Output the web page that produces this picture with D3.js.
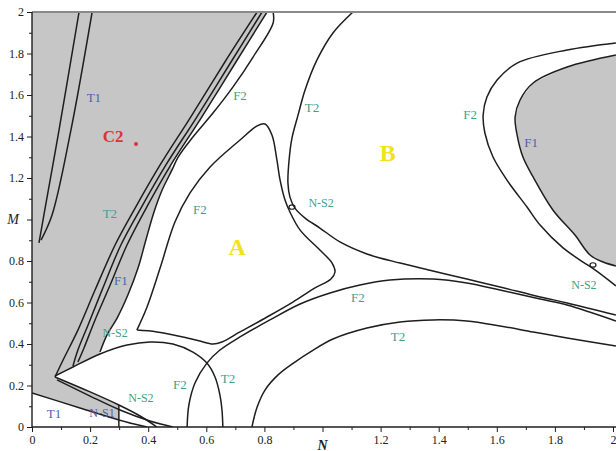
<!DOCTYPE html>
<meta charset="utf-8">
<script src="https://d3js.org/d3.v7.min.js"></script>
<div id="chart"></div>
<style>
 body { margin: 0; background: #fff; }
 text { font-family: 'Liberation Serif', 'DejaVu Serif', serif; }
</style>
<script>
 const lineColor = "#1e1e1e";
 const grayFill = "#c6c6c6";
 const teal = "#45a08a";
 const blue = "#4f5fb2";
 const red = "#e0303a";
 const yellow = "#f2e21a";

 // ticks
 const xTicks = [0, 0.2, 0.4, 0.6, 0.8, 1, 1.2, 1.4, 1.6, 1.8, 2];
 const xTickLabels = ["0", "0.2", "0.4", "0.6", "0.8", "", "1.2", "1.4", "1.6", "1.8", "2"];
 const yTicks = [0, 0.2, 0.4, 0.6, 0.8, 1, 1.2, 1.4, 1.6, 1.8, 2];
 const yTickLabels = ["0", "0.2", "0.4", "0.6", "0.8", "", "1.2", "1.4", "1.6", "1.8", "2"];
 const minorTicks = [0.1, 0.3, 0.5, 0.7, 0.9, 1.1, 1.3, 1.5, 1.7, 1.9];

 // bifurcation curves, [N, M]
 const t1a = [[0.162, 2.0], [0.093, 1.431], [0.041, 1.022], [0.024, 0.887]];
 const t1b = [[0.207, 2.0], [0.134, 1.431], [0.069, 1.022], [0.031, 0.901]];
 const la = [[0.775, 2.0], [0.664, 1.759], [0.544, 1.489], [0.441, 1.263], [0.355, 1.055],
             [0.286, 0.877], [0.217, 0.660], [0.158, 0.467], [0.107, 0.323], [0.079, 0.241]];
 const lb = [[0.792, 2.0], [0.685, 1.759], [0.565, 1.489], [0.461, 1.263], [0.375, 1.055],
             [0.306, 0.877], [0.244, 0.670], [0.193, 0.492], [0.158, 0.371], [0.141, 0.294]];
 const lc = [[0.809, 2.0], [0.702, 1.759], [0.582, 1.489], [0.478, 1.263], [0.399, 1.070],
             [0.327, 0.877], [0.269, 0.684], [0.217, 0.516], [0.179, 0.381], [0.158, 0.313]];
 const ls = [[0.830, 2.0], [0.830, 1.947], [0.761, 1.783], [0.692, 1.639], [0.623, 1.513],
             [0.554, 1.398], [0.503, 1.301], [0.482, 1.239], [0.448, 1.142], [0.420, 1.036],
             [0.392, 0.901], [0.365, 0.766], [0.330, 0.636], [0.293, 0.525], [0.258, 0.443],
             [0.234, 0.361]];
 const dome = [[0.079, 0.246], [0.141, 0.289], [0.234, 0.352], [0.327, 0.395], [0.406, 0.410],
               [0.485, 0.400], [0.554, 0.361], [0.602, 0.308], [0.630, 0.241], [0.647, 0.154],
               [0.654, 0.082], [0.657, 0.0]];
 const va = [[0.079, 0.241], [0.200, 0.169], [0.299, 0.106], [0.372, 0.053], [0.430, 0.0]];
 const vb = [[0.086, 0.227], [0.200, 0.149], [0.303, 0.082], [0.406, 0.029], [0.485, 0.0]];
 const t1Low = [[0.0, 0.164], [0.165, 0.092], [0.299, 0.034], [0.396, 0.0]];
 const ns1Edge = [[0.299, 0.106], [0.299, 0.0]];
 const f1Right = [[2.010, 1.793], [1.842, 1.735], [1.725, 1.658], [1.680, 1.576], [1.663, 1.494],
                  [1.670, 1.407], [1.690, 1.301], [1.725, 1.205], [1.793, 1.046], [1.869, 0.925],
                  [1.921, 0.829], [1.966, 0.795], [2.010, 0.776]];
 const f2Right = [[2.010, 1.851], [1.842, 1.817], [1.670, 1.754], [1.601, 1.672], [1.566, 1.590],
                  [1.553, 1.504], [1.559, 1.417], [1.587, 1.301], [1.635, 1.190], [1.704, 1.060],
                  [1.749, 0.973], [1.828, 0.863], [1.897, 0.795], [1.938, 0.757], [2.010, 0.680]];
 const loopA = [[0.361, 0.467], [0.396, 0.578], [0.441, 0.766], [0.492, 0.988], [0.544, 1.128],
                [0.613, 1.253], [0.716, 1.383], [0.775, 1.451], [0.802, 1.460], [0.826, 1.407],
                [0.843, 1.287], [0.854, 1.190], [0.871, 1.094], [0.888, 1.036], [0.923, 0.949],
                [0.991, 0.853], [1.033, 0.790], [1.043, 0.747], [1.029, 0.713], [0.974, 0.670],
                [0.898, 0.602], [0.809, 0.530], [0.716, 0.458], [0.654, 0.410], [0.623, 0.400],
                [0.578, 0.414], [0.534, 0.429], [0.430, 0.458], [0.361, 0.467]];
 const d1 = [[1.105, 2.0], [1.036, 1.899], [0.981, 1.769], [0.940, 1.624], [0.916, 1.504],
             [0.895, 1.393], [0.885, 1.287], [0.881, 1.176], [0.888, 1.108], [0.905, 1.055],
             [0.940, 1.007], [0.991, 0.959], [1.060, 0.892], [1.153, 0.834], [1.267, 0.790],
             [1.380, 0.752], [1.497, 0.713], [1.611, 0.675], [1.749, 0.627], [1.842, 0.598],
             [2.010, 0.540]];
 const d2 = [[0.534, 0.0], [0.540, 0.106], [0.561, 0.212], [0.602, 0.308], [0.647, 0.371],
             [0.716, 0.434], [0.819, 0.516], [0.923, 0.593], [1.026, 0.646], [1.129, 0.684],
             [1.232, 0.708], [1.380, 0.713], [1.497, 0.694], [1.611, 0.660], [1.749, 0.617],
             [1.842, 0.588], [2.010, 0.511]];
 const t2Low = [[0.757, 0.0], [0.775, 0.096], [0.802, 0.178], [0.847, 0.251], [0.905, 0.313],
                [0.957, 0.361], [1.036, 0.424], [1.153, 0.477], [1.267, 0.506], [1.380, 0.516],
                [1.497, 0.511], [1.611, 0.487], [1.725, 0.458], [1.842, 0.429], [2.010, 0.390]];
 const curves = [t1a, t1b, la, lb, lc, ls, dome, va, vb, t1Low, ns1Edge, f1Right, f2Right,
                 loopA, d1, d2, t2Low];

 // Neimark-Sacker points
 const nsPoints = [[0.895, 1.060], [1.931, 0.781]];

 const labels = [
   {t: "T1", n: 0.213, m: 1.590, c: blue, s: 13},
   {t: "C2", n: 0.279, m: 1.398, c: red, s: 17},
   {t: "T2", n: 0.268, m: 1.027, c: teal, s: 13},
   {t: "F2", n: 0.716, m: 1.600, c: teal, s: 13},
   {t: "T2", n: 0.964, m: 1.542, c: teal, s: 13},
   {t: "F2", n: 1.508, m: 1.504, c: teal, s: 13},
   {t: "F1", n: 1.718, m: 1.369, c: blue, s: 13},
   {t: "B", n: 1.225, m: 1.320, c: yellow, s: 24},
   {t: "F2", n: 0.578, m: 1.046, c: teal, s: 13},
   {t: "N-S2", n: 0.995, m: 1.080, c: teal, s: 12},
   {t: "A", n: 0.706, m: 0.867, c: yellow, s: 24},
   {t: "F1", n: 0.306, m: 0.708, c: blue, s: 13},
   {t: "N-S2", n: 0.286, m: 0.453, c: teal, s: 12},
   {t: "F2", n: 1.122, m: 0.622, c: teal, s: 13},
   {t: "N-S2", n: 1.900, m: 0.684, c: teal, s: 12},
   {t: "T2", n: 1.260, m: 0.434, c: teal, s: 13},
   {t: "F2", n: 0.509, m: 0.207, c: teal, s: 13},
   {t: "T2", n: 0.675, m: 0.236, c: teal, s: 13},
   {t: "N-S2", n: 0.375, m: 0.140, c: teal, s: 12},
   {t: "T1", n: 0.076, m: 0.063, c: blue, s: 13},
   {t: "N-S1", n: 0.241, m: 0.067, c: blue, s: 12}
 ];
 const c2Point = [0.358, 1.364];

 const width = 616, height = 451;
 const svg = d3.select("#chart").append("svg")
               .attr("width", width).attr("height", height)
               .style("background", "#fff");

 const x = d3.scaleLinear().domain([0, 2]).range([32, 613]);
 const y = d3.scaleLinear().domain([0, 2]).range([427, 12]);

 svg.append("clipPath").attr("id", "plot")
    .append("rect").attr("x", x(0)).attr("y", y(2)).attr("width", width - x(0)).attr("height", y(0) - y(2));

 const plot = svg.append("g").attr("clip-path", "url(#plot)");

 // gray regions built from the curves
 const grayLeft = [[0, 2]]
   .concat(lc.slice(0, 4))
   .concat(ls.slice(7))
   .concat(dome.slice(0, 3).reverse())
   .concat(va.slice(0, 3))
   .concat([[0.299, 0.034]])
   .concat(t1Low.slice(0, 2).reverse());
 const grayRight = f1Right.concat([[2.1, 0.776], [2.1, 1.793]]);

 const area = d3.line().x(d => x(d[0])).y(d => y(d[1])).curve(d3.curveLinearClosed);
 plot.selectAll(".gray").data([grayLeft, grayRight]).join("path")
     .attr("d", area).attr("fill", grayFill);

 const line = d3.line().x(d => x(d[0])).y(d => y(d[1])).curve(d3.curveCatmullRom.alpha(0.5));
 plot.selectAll(".curve").data(curves).join("path")
     .attr("d", line).attr("fill", "none")
     .attr("stroke", lineColor).attr("stroke-width", 1.5);

 plot.selectAll(".ns").data(nsPoints).join("ellipse")
     .attr("cx", d => x(d[0])).attr("cy", d => y(d[1]))
     .attr("rx", 3).attr("ry", 2.2).attr("fill", "none")
     .attr("stroke", lineColor).attr("stroke-width", 1.2);

 // labels
 plot.selectAll(".lab").data(labels).join("text")
     .attr("x", d => x(d.n)).attr("y", d => y(d.m))
     .attr("text-anchor", "middle").attr("dominant-baseline", "central")
     .style("font-size", d => d.s + "px")
     .style("font-weight", d => d.s > 16 ? "bold" : "normal")
     .attr("fill", d => d.c).text(d => d.t);

 plot.append("circle").attr("cx", x(c2Point[0])).attr("cy", y(c2Point[1]))
     .attr("r", 2).attr("fill", red);

 // frame
 svg.append("line").attr("x1", x(0)).attr("x2", width).attr("y1", y(2)).attr("y2", y(2))
    .attr("stroke", "#8a8a8a").attr("stroke-width", 2);
 svg.append("line").attr("x1", x(0)).attr("x2", width).attr("y1", y(0)).attr("y2", y(0))
    .attr("stroke", lineColor).attr("stroke-width", 1.4);
 svg.append("line").attr("x1", x(0)).attr("x2", x(0)).attr("y1", y(0)).attr("y2", y(2))
    .attr("stroke", lineColor).attr("stroke-width", 1.4);

 // axes
 const xAxis = svg.append("g").attr("transform", `translate(0,${y(0)})`)
   .call(d3.axisBottom(x).tickValues(xTicks).tickSize(5).tickPadding(3)
         .tickFormat((d, i) => xTickLabels[i]));
 const xMinor = svg.append("g").attr("transform", `translate(0,${y(0)})`)
   .call(d3.axisBottom(x).tickValues(minorTicks).tickSize(3).tickFormat(""));
 const yAxis = svg.append("g").attr("transform", `translate(${x(0)},0)`)
   .call(d3.axisLeft(y).tickValues(yTicks).tickSize(5).tickPadding(3)
         .tickFormat((d, i) => yTickLabels[i]));
 const yMinor = svg.append("g").attr("transform", `translate(${x(0)},0)`)
   .call(d3.axisLeft(y).tickValues(minorTicks).tickSize(3).tickFormat(""));

 [xAxis, xMinor, yAxis, yMinor].forEach(g => {
   g.select(".domain").remove();
   g.selectAll("line").attr("stroke", lineColor);
   g.selectAll("text").style("font-family", "'Liberation Serif', serif")
    .style("font-size", "12px").attr("fill", "#222");
 });

 svg.append("text").attr("x", x(1)).attr("y", 445)
    .attr("text-anchor", "middle").attr("dominant-baseline", "central")
    .style("font-style", "italic").style("font-weight", "bold").style("font-size", "14px")
    .attr("fill", "#222").text("N");
 svg.append("text").attr("x", 13).attr("y", y(1))
    .attr("text-anchor", "middle").attr("dominant-baseline", "central")
    .style("font-style", "italic").style("font-size", "14px")
    .attr("fill", "#222").text("M");
</script>
